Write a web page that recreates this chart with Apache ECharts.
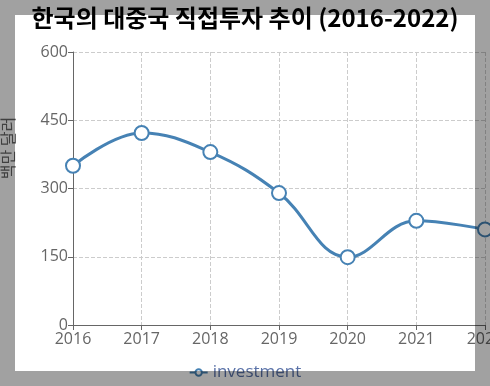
<!DOCTYPE html>
<html><head><meta charset="utf-8">
<script src="https://cdn.jsdelivr.net/npm/echarts@6/dist/echarts.min.js"></script>
<style>html,body{margin:0;padding:0;background:#fff}#c{width:490px;height:386px}</style>
</head><body><div id="c"></div>
<script>
const categories = ['2016','2017','2018','2019','2020','2021','2022'];
const investment = [350, 422, 380, 290, 149, 229, 210];
const yTicks = [0, 150, 300, 450, 600];
const titleText = '한국의 대중국 직접투자 추이 (2016-2022)';
const yName = '백만 달러';
const seriesName = 'investment';

const shade = 'rgba(0,0,0,0.37)';
const chart = echarts.init(document.getElementById('c'));
chart.setOption({
  backgroundColor: '#fff',
  animation: false,
  title: {
    text: titleText, left: 'center', top: 1,
    textStyle: {fontSize: 24, fontWeight: 'bold', color: '#000', fontFamily: 'Noto Sans CJK KR'}
  },
  legend: {
    bottom: 0, left: 'center', itemWidth: 18, itemHeight: 8, itemGap: 4,
    textStyle: {fontSize: 17, color: '#5a72a8', fontFamily: 'Open Sans'},
    data: [seriesName]
  },
  grid: {left: 73, right: 5, top: 52, bottom: 61, containLabel: false, outerBoundsMode: 'none'},
  xAxis: {
    type: 'category', data: categories, boundaryGap: false,
    axisLine: {lineStyle: {color: '#666'}},
    axisTick: {show: true, alignWithLabel: true, length: 5, lineStyle: {color: '#666'}},
    axisLabel: {fontSize: 16, color: '#666', margin: 6, fontFamily: 'Open Sans'},
    splitLine: {show: true, lineStyle: {color: '#ccc', type: 'dashed'}}
  },
  yAxis: {
    type: 'value', min: yTicks[0], max: yTicks[yTicks.length-1], interval: 150,
    axisLine: {show: true, lineStyle: {color: '#666'}},
    axisTick: {show: true, length: 5, lineStyle: {color: '#666'}},
    axisLabel: {fontSize: 16, color: '#666', margin: 5, fontFamily: 'Open Sans'},
    splitLine: {show: true, lineStyle: {color: '#ccc', type: 'dashed'}}
  },
  graphic: [
    {type: 'text', x: 8, y: 148, rotation: Math.PI/2, z: 50,
     style: {text: yName, fontSize: 16, fill: '#666', align: 'center', verticalAlign: 'middle', fontFamily: 'Noto Sans CJK KR'}},
    {type: 'rect', z: 100, silent: true, shape: {x: 0, y: 0, width: 490, height: 15}, style: {fill: shade}},
    {type: 'rect', z: 100, silent: true, shape: {x: 0, y: 371, width: 490, height: 15}, style: {fill: shade}},
    {type: 'rect', z: 100, silent: true, shape: {x: 0, y: 15, width: 15, height: 356}, style: {fill: shade}},
    {type: 'rect', z: 100, silent: true, shape: {x: 475, y: 15, width: 15, height: 356}, style: {fill: shade}}
  ],
  series: [{
    name: seriesName, type: 'line', data: investment, smooth: 0.4,
    symbol: 'emptyCircle', symbolSize: 14,
    lineStyle: {width: 3, color: '#4682b4'},
    itemStyle: {color: '#4682b4', borderWidth: 3, borderColor: '#4682b4'}
  }]
});
</script></body></html>
